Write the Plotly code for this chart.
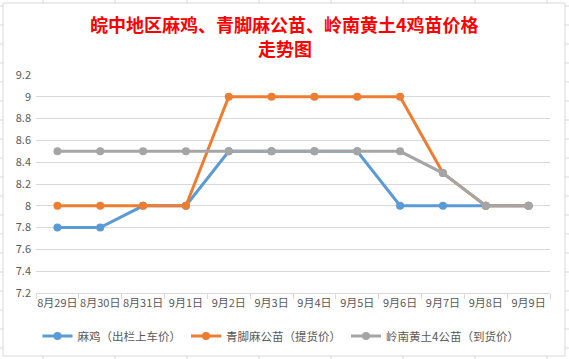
import plotly.graph_objects as go

dates = ["8月29日", "8月30日", "8月31日", "9月1日", "9月2日", "9月3日",
         "9月4日", "9月5日", "9月6日", "9月7日", "9月8日", "9月9日"]
maji = [7.8, 7.8, 8.0, 8.0, 8.5, 8.5, 8.5, 8.5, 8.0, 8.0, 8.0, 8.0]
qingjiao = [8.0, 8.0, 8.0, 8.0, 9.0, 9.0, 9.0, 9.0, 9.0, 8.3, 8.0, 8.0]
lingnan = [8.5, 8.5, 8.5, 8.5, 8.5, 8.5, 8.5, 8.5, 8.5, 8.3, 8.0, 8.0]
names = ["麻鸡（出栏上车价）", "青脚麻公苗（提货价）", "岭南黄土4公苗（到货价）"]
title_lines = ["皖中地区麻鸡、青脚麻公苗、岭南黄土4鸡苗价格", "走势图"]
colors = ["#5B9BD5", "#ED7D31", "#A5A5A5"]

W, H = 569, 359
FONT = "Noto Sans CJK SC"
L, R, T, B = 36, 550, 75, 293


def px(x):
    return (x - L) / (R - L)


def py(y):
    return (B - y) / (B - T)


fig = go.Figure()
for name, vals, c in zip(names, [maji, qingjiao, lingnan], colors):
    fig.add_trace(go.Scatter(
        x=dates, y=vals, name=name, mode="lines+markers",
        line=dict(color=c, width=3),
        marker=dict(color=c, size=8),
    ))

shapes = []
shapes.append(dict(type="rect", xref="paper", yref="paper",
                   x0=px(3), x1=px(565), y0=py(356), y1=py(3),
                   line=dict(color="#D9D9D9", width=1), layer="below"))
for k in range(-1, 18):
    y = 25 + 19 * k
    shapes.append(dict(type="line", xref="paper", yref="paper",
                       x0=px(0), x1=px(3), y0=py(y), y1=py(y),
                       line=dict(color="#D9D9D9", width=1)))
    shapes.append(dict(type="line", xref="paper", yref="paper",
                       x0=px(565), x1=px(569), y0=py(y), y1=py(y),
                       line=dict(color="#D9D9D9", width=1)))
for k in range(8):
    x = 43 + 72 * k
    shapes.append(dict(type="line", xref="paper", yref="paper",
                       x0=px(x), x1=px(x), y0=py(0), y1=py(3),
                       line=dict(color="#D9D9D9", width=1)))
    shapes.append(dict(type="line", xref="paper", yref="paper",
                       x0=px(x), x1=px(x), y0=py(356), y1=py(359),
                       line=dict(color="#D9D9D9", width=1)))

annotations = []
for text, yc in zip(title_lines, [24, 48]):
    annotations.append(dict(
        text="<b>%s</b>" % text, xref="paper", yref="paper",
        x=px(284.5), y=py(yc), xanchor="center", yanchor="middle",
        showarrow=False, font=dict(family=FONT, size=18, color="#FF0000")))

fig.update_layout(
    width=W, height=H,
    margin=dict(l=L, r=W - R, t=T, b=H - B, autoexpand=False),
    paper_bgcolor="white", plot_bgcolor="white",
    font=dict(family=FONT, size=11, color="#595959"),
    xaxis=dict(type="category", showgrid=False, showline=True,
               linecolor="#D9D9D9", linewidth=1,
               ticks="outside", tickson="boundaries", ticklen=5,
               tickcolor="#D9D9D9", tickangle=0, automargin=False,
               tickfont=dict(size=11, color="#595959"),
               range=[-0.5, 11.5]),
    yaxis=dict(range=[7.2, 9.2], dtick=0.2, tick0=7.2, showgrid=True,
               gridcolor="#D9D9D9", gridwidth=1, zeroline=False,
               showline=False, ticks="", automargin=False,
               ticklabelstandoff=4,
               tickfont=dict(size=11, color="#595959")),
    legend=dict(orientation="h", xref="container", yref="container",
                x=281 / W, xanchor="center", y=1 - 336 / H, yanchor="middle",
                font=dict(size=11.5, color="#595959"),
                itemwidth=30, tracegroupgap=0),
    shapes=shapes,
    annotations=annotations,
    showlegend=True,
)

fig.write_html("out.html",
               config={"displayModeBar": False},
               post_script="document.body.style.margin='0';"
                           "document.body.style.overflow='hidden';")
